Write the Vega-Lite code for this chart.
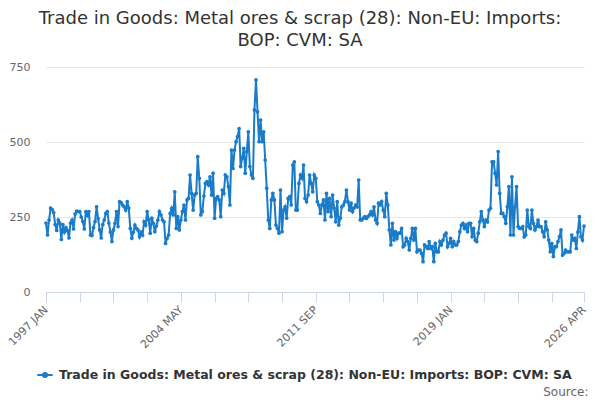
{
  "$schema": "https://vega.github.io/schema/vega-lite/v6.json",
  "autosize": {"type": "none"},
  "width": 538,
  "height": 225,
  "padding": {"left": 46, "top": 67, "right": 16, "bottom": 108},
  "background": "white",
  "config": {
    "font": "DejaVu Sans",
    "view": {"stroke": null}
  },
  "title": {
    "text": ["Trade in Goods: Metal ores & scrap (28): Non-EU: Imports:", "BOP: CVM: SA"],
    "fontSize": 18,
    "fontWeight": "normal",
    "color": "#333333",
    "anchor": "middle",
    "dx": -15,
    "lineHeight": 22,
    "offset": 11
  },
  "data": {
    "values": [
      {"t":"1997 JAN","v":230},{"t":"1997 FEB","v":190},{"t":"1997 MAR","v":240},{"t":"1997 APR","v":280},{"t":"1997 MAY","v":275},{"t":"1997 JUN","v":265},{"t":"1997 JUL","v":225},{"t":"1997 AUG","v":205},{"t":"1997 SEP","v":240},{"t":"1997 OCT","v":230},{"t":"1997 NOV","v":175},{"t":"1997 DEC","v":225},
      {"t":"1998 JAN","v":200},{"t":"1998 FEB","v":215},{"t":"1998 MAR","v":205},{"t":"1998 APR","v":180},{"t":"1998 MAY","v":230},{"t":"1998 JUN","v":240},{"t":"1998 JUL","v":210},{"t":"1998 AUG","v":260},{"t":"1998 SEP","v":270},{"t":"1998 OCT","v":268},{"t":"1998 NOV","v":268},{"t":"1998 DEC","v":250},
      {"t":"1999 JAN","v":235},{"t":"1999 FEB","v":210},{"t":"1999 MAR","v":268},{"t":"1999 APR","v":255},{"t":"1999 MAY","v":268},{"t":"1999 JUN","v":190},{"t":"1999 JUL","v":188},{"t":"1999 AUG","v":215},{"t":"1999 SEP","v":235},{"t":"1999 OCT","v":284},{"t":"1999 NOV","v":245},{"t":"1999 DEC","v":207},
      {"t":"2000 JAN","v":180},{"t":"2000 FEB","v":225},{"t":"2000 MAR","v":240},{"t":"2000 APR","v":262},{"t":"2000 MAY","v":268},{"t":"2000 JUN","v":230},{"t":"2000 JUL","v":200},{"t":"2000 AUG","v":168},{"t":"2000 SEP","v":207},{"t":"2000 OCT","v":229},{"t":"2000 NOV","v":268},{"t":"2000 DEC","v":218},
      {"t":"2001 JAN","v":301},{"t":"2001 FEB","v":298},{"t":"2001 MAR","v":290},{"t":"2001 APR","v":284},{"t":"2001 MAY","v":273},{"t":"2001 JUN","v":301},{"t":"2001 JUL","v":280},{"t":"2001 AUG","v":212},{"t":"2001 SEP","v":179},{"t":"2001 OCT","v":200},{"t":"2001 NOV","v":223},{"t":"2001 DEC","v":212},
      {"t":"2002 JAN","v":207},{"t":"2002 FEB","v":184},{"t":"2002 MAR","v":200},{"t":"2002 APR","v":190},{"t":"2002 MAY","v":234},{"t":"2002 JUN","v":223},{"t":"2002 JUL","v":268},{"t":"2002 AUG","v":240},{"t":"2002 SEP","v":196},{"t":"2002 OCT","v":246},{"t":"2002 NOV","v":229},{"t":"2002 DEC","v":201},
      {"t":"2003 JAN","v":220},{"t":"2003 FEB","v":240},{"t":"2003 MAR","v":268},{"t":"2003 APR","v":257},{"t":"2003 MAY","v":240},{"t":"2003 JUN","v":234},{"t":"2003 JUL","v":162},{"t":"2003 AUG","v":179},{"t":"2003 SEP","v":190},{"t":"2003 OCT","v":262},{"t":"2003 NOV","v":279},{"t":"2003 DEC","v":257},
      {"t":"2004 JAN","v":334},{"t":"2004 FEB","v":212},{"t":"2004 MAR","v":251},{"t":"2004 APR","v":207},{"t":"2004 MAY","v":240},{"t":"2004 JUN","v":268},{"t":"2004 JUL","v":290},{"t":"2004 AUG","v":240},{"t":"2004 SEP","v":307},{"t":"2004 OCT","v":312},{"t":"2004 NOV","v":390},{"t":"2004 DEC","v":329},
      {"t":"2005 JAN","v":273},{"t":"2005 FEB","v":323},{"t":"2005 MAR","v":329},{"t":"2005 APR","v":451},{"t":"2005 MAY","v":379},{"t":"2005 JUN","v":257},{"t":"2005 JUL","v":268},{"t":"2005 AUG","v":320},{"t":"2005 SEP","v":362},{"t":"2005 OCT","v":368},{"t":"2005 NOV","v":357},{"t":"2005 DEC","v":384},
      {"t":"2006 JAN","v":323},{"t":"2006 FEB","v":396},{"t":"2006 MAR","v":246},{"t":"2006 APR","v":312},{"t":"2006 MAY","v":318},{"t":"2006 JUN","v":307},{"t":"2006 JUL","v":251},{"t":"2006 AUG","v":340},{"t":"2006 SEP","v":329},{"t":"2006 OCT","v":390},{"t":"2006 NOV","v":384},{"t":"2006 DEC","v":351},
      {"t":"2007 JAN","v":290},{"t":"2007 FEB","v":473},{"t":"2007 MAR","v":412},{"t":"2007 APR","v":473},{"t":"2007 MAY","v":501},{"t":"2007 JUN","v":518},{"t":"2007 JUL","v":545},{"t":"2007 AUG","v":418},{"t":"2007 SEP","v":446},{"t":"2007 OCT","v":479},{"t":"2007 NOV","v":396},{"t":"2007 DEC","v":468},
      {"t":"2008 JAN","v":534},{"t":"2008 FEB","v":418},{"t":"2008 MAR","v":390},{"t":"2008 APR","v":379},{"t":"2008 MAY","v":607},{"t":"2008 JUN","v":707},{"t":"2008 JUL","v":601},{"t":"2008 AUG","v":501},{"t":"2008 SEP","v":573},{"t":"2008 OCT","v":501},{"t":"2008 NOV","v":534},{"t":"2008 DEC","v":440},
      {"t":"2009 JAN","v":346},{"t":"2009 FEB","v":240},{"t":"2009 MAR","v":212},{"t":"2009 APR","v":307},{"t":"2009 MAY","v":329},{"t":"2009 JUN","v":307},{"t":"2009 JUL","v":223},{"t":"2009 AUG","v":212},{"t":"2009 SEP","v":196},{"t":"2009 OCT","v":340},{"t":"2009 NOV","v":201},{"t":"2009 DEC","v":273},
      {"t":"2010 JAN","v":284},{"t":"2010 FEB","v":246},{"t":"2010 MAR","v":312},{"t":"2010 APR","v":318},{"t":"2010 MAY","v":290},{"t":"2010 JUN","v":423},{"t":"2010 JUL","v":434},{"t":"2010 AUG","v":273},{"t":"2010 SEP","v":273},{"t":"2010 OCT","v":362},{"t":"2010 NOV","v":390},{"t":"2010 DEC","v":379},
      {"t":"2011 JAN","v":423},{"t":"2011 FEB","v":312},{"t":"2011 MAR","v":301},{"t":"2011 APR","v":323},{"t":"2011 MAY","v":390},{"t":"2011 JUN","v":362},{"t":"2011 JUL","v":334},{"t":"2011 AUG","v":390},{"t":"2011 SEP","v":379},{"t":"2011 OCT","v":301},{"t":"2011 NOV","v":290},{"t":"2011 DEC","v":262},
      {"t":"2012 JAN","v":290},{"t":"2012 FEB","v":307},{"t":"2012 MAR","v":240},{"t":"2012 APR","v":329},{"t":"2012 MAY","v":268},{"t":"2012 JUN","v":312},{"t":"2012 JUL","v":251},{"t":"2012 AUG","v":323},{"t":"2012 SEP","v":280},{"t":"2012 OCT","v":234},{"t":"2012 NOV","v":301},{"t":"2012 DEC","v":223},
      {"t":"2013 JAN","v":246},{"t":"2013 FEB","v":284},{"t":"2013 MAR","v":290},{"t":"2013 APR","v":301},{"t":"2013 MAY","v":340},{"t":"2013 JUN","v":301},{"t":"2013 JUL","v":273},{"t":"2013 AUG","v":296},{"t":"2013 SEP","v":268},{"t":"2013 OCT","v":280},{"t":"2013 NOV","v":290},{"t":"2013 DEC","v":284},
      {"t":"2014 JAN","v":373},{"t":"2014 FEB","v":240},{"t":"2014 MAR","v":240},{"t":"2014 APR","v":246},{"t":"2014 MAY","v":251},{"t":"2014 JUN","v":245},{"t":"2014 JUL","v":251},{"t":"2014 AUG","v":257},{"t":"2014 SEP","v":268},{"t":"2014 OCT","v":257},{"t":"2014 NOV","v":284},{"t":"2014 DEC","v":240},
      {"t":"2015 JAN","v":229},{"t":"2015 FEB","v":296},{"t":"2015 MAR","v":290},{"t":"2015 APR","v":301},{"t":"2015 MAY","v":273},{"t":"2015 JUN","v":251},{"t":"2015 JUL","v":329},{"t":"2015 AUG","v":290},{"t":"2015 SEP","v":207},{"t":"2015 OCT","v":157},{"t":"2015 NOV","v":229},{"t":"2015 DEC","v":173},
      {"t":"2016 JAN","v":201},{"t":"2016 FEB","v":179},{"t":"2016 MAR","v":196},{"t":"2016 APR","v":196},{"t":"2016 MAY","v":212},{"t":"2016 JUN","v":151},{"t":"2016 JUL","v":157},{"t":"2016 AUG","v":179},{"t":"2016 SEP","v":168},{"t":"2016 OCT","v":140},{"t":"2016 NOV","v":179},{"t":"2016 DEC","v":212},
      {"t":"2017 JAN","v":173},{"t":"2017 FEB","v":212},{"t":"2017 MAR","v":134},{"t":"2017 APR","v":140},{"t":"2017 MAY","v":140},{"t":"2017 JUN","v":129},{"t":"2017 JUL","v":101},{"t":"2017 AUG","v":157},{"t":"2017 SEP","v":151},{"t":"2017 OCT","v":145},{"t":"2017 NOV","v":168},{"t":"2017 DEC","v":145},
      {"t":"2018 JAN","v":151},{"t":"2018 FEB","v":101},{"t":"2018 MAR","v":162},{"t":"2018 APR","v":134},{"t":"2018 MAY","v":134},{"t":"2018 JUN","v":168},{"t":"2018 JUL","v":157},{"t":"2018 AUG","v":173},{"t":"2018 SEP","v":190},{"t":"2018 OCT","v":196},{"t":"2018 NOV","v":151},{"t":"2018 DEC","v":162},
      {"t":"2019 JAN","v":179},{"t":"2019 FEB","v":151},{"t":"2019 MAR","v":168},{"t":"2019 APR","v":157},{"t":"2019 MAY","v":157},{"t":"2019 JUN","v":168},{"t":"2019 JUL","v":201},{"t":"2019 AUG","v":223},{"t":"2019 SEP","v":229},{"t":"2019 OCT","v":212},{"t":"2019 NOV","v":223},{"t":"2019 DEC","v":201},
      {"t":"2020 JAN","v":229},{"t":"2020 FEB","v":229},{"t":"2020 MAR","v":184},{"t":"2020 APR","v":212},{"t":"2020 MAY","v":173},{"t":"2020 JUN","v":168},{"t":"2020 JUL","v":196},{"t":"2020 AUG","v":234},{"t":"2020 SEP","v":268},{"t":"2020 OCT","v":240},{"t":"2020 NOV","v":218},{"t":"2020 DEC","v":240},
      {"t":"2021 JAN","v":234},{"t":"2021 FEB","v":273},{"t":"2021 MAR","v":279},{"t":"2021 APR","v":434},{"t":"2021 MAY","v":434},{"t":"2021 JUN","v":396},{"t":"2021 JUL","v":357},{"t":"2021 AUG","v":468},{"t":"2021 SEP","v":329},{"t":"2021 OCT","v":262},{"t":"2021 NOV","v":262},{"t":"2021 DEC","v":251},
      {"t":"2022 JAN","v":229},{"t":"2022 FEB","v":284},{"t":"2022 MAR","v":351},{"t":"2022 APR","v":190},{"t":"2022 MAY","v":384},{"t":"2022 JUN","v":190},{"t":"2022 JUL","v":284},{"t":"2022 AUG","v":351},{"t":"2022 SEP","v":218},{"t":"2022 OCT","v":212},{"t":"2022 NOV","v":212},{"t":"2022 DEC","v":218},
      {"t":"2023 JAN","v":184},{"t":"2023 FEB","v":190},{"t":"2023 MAR","v":273},{"t":"2023 APR","v":218},{"t":"2023 MAY","v":212},{"t":"2023 JUN","v":273},{"t":"2023 JUL","v":229},{"t":"2023 AUG","v":207},{"t":"2023 SEP","v":218},{"t":"2023 OCT","v":240},{"t":"2023 NOV","v":218},{"t":"2023 DEC","v":218},
      {"t":"2024 JAN","v":201},{"t":"2024 FEB","v":184},{"t":"2024 MAR","v":234},{"t":"2024 APR","v":207},{"t":"2024 MAY","v":173},{"t":"2024 JUN","v":134},{"t":"2024 JUL","v":162},{"t":"2024 AUG","v":118},{"t":"2024 SEP","v":151},{"t":"2024 OCT","v":151},{"t":"2024 NOV","v":168},{"t":"2024 DEC","v":184},
      {"t":"2025 JAN","v":207},{"t":"2025 FEB","v":123},{"t":"2025 MAR","v":129},{"t":"2025 APR","v":140},{"t":"2025 MAY","v":134},{"t":"2025 JUN","v":134},{"t":"2025 JUL","v":134},{"t":"2025 AUG","v":190},{"t":"2025 SEP","v":173},{"t":"2025 OCT","v":179},{"t":"2025 NOV","v":145},{"t":"2025 DEC","v":200},
      {"t":"2026 JAN","v":251},{"t":"2026 FEB","v":184},{"t":"2026 MAR","v":173},{"t":"2026 APR","v":220}
    ]
  },
  "mark": {
    "type": "line",
    "strokeWidth": 2,
    "point": {"filled": true, "size": 14}
  },
  "encoding": {
    "x": {
      "field": "t",
      "type": "ordinal",
      "sort": null,
      "scale": {"type": "point", "padding": 0},
      "axis": {
        "title": "Source:",
        "titleFontSize": 12,
        "titleFontWeight": "normal",
        "titleColor": "#666666",
        "titleAlign": "right",
        "titleAnchor": "end",
        "titleX": 542,
        "titleY": 103,
        "titleBaseline": "alphabetic",
        "values": ["1997 JAN","1998 NOV","2000 SEP","2002 JUL","2004 MAY","2006 MAR","2008 JAN","2009 NOV","2011 SEP","2013 JUL","2015 MAY","2017 MAR","2019 JAN","2020 NOV","2022 SEP","2024 JUL","2026 APR"],
        "labelExpr": "indexof(['1997 JAN','2004 MAY','2011 SEP','2019 JAN','2026 APR'], datum.value) >= 0 ? datum.value : ''",
        "labelAngle": -45,
        "labelAlign": "right",
        "labelBaseline": "middle",
        "labelFontSize": 11,
        "labelColor": "#666666",
        "labelPadding": 6,
        "labelOverlap": false,
        "domainColor": "#ccd6eb",
        "tickColor": "#ccd6eb",
        "tickSize": 10,
        "grid": false
      }
    },
    "y": {
      "field": "v",
      "type": "quantitative",
      "scale": {"domain": [0, 750], "nice": false},
      "axis": {
        "title": null,
        "values": [0, 250, 500, 750],
        "domain": false,
        "ticks": false,
        "labelPadding": 16,
        "labelFontSize": 11,
        "labelColor": "#666666",
        "gridColor": "#e6e6e6"
      }
    },
    "color": {
      "datum": "Trade in Goods: Metal ores & scrap (28): Non-EU: Imports: BOP: CVM: SA",
      "scale": {"range": ["#1a7cc9"]},
      "legend": {
        "title": null,
        "orient": "none",
        "legendX": -10,
        "legendY": 299,
        "labelFontSize": 12.5,
        "labelFontWeight": "bold",
        "labelColor": "#333333",
        "labelLimit": 700,
        "labelOffset": 5,
        "symbolType": "M-1,0L1,0M-0.26,0A0.26,0.26,0,1,0,0.26,0A0.26,0.26,0,1,0,-0.26,0Z",
        "symbolSize": 237,
        "symbolStrokeWidth": 2,
        "symbolFillColor": "#1a7cc9",
        "symbolStrokeColor": "#1a7cc9"
      }
    }
  }
}
